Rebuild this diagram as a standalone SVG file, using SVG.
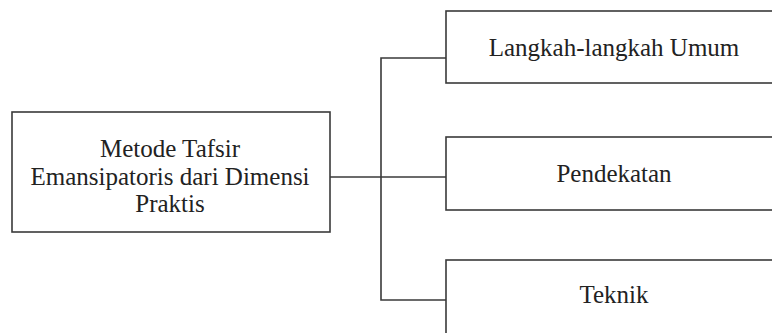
<svg xmlns="http://www.w3.org/2000/svg" width="772" height="333" viewBox="0 0 772 333">
<style>
.box{fill:#fff;stroke:#3a3a3a;stroke-width:1.6}
.lbl{font-family:'Liberation Serif',Tinos,'Times New Roman','DejaVu Serif',serif;font-size:25px;fill:#222;text-anchor:middle}
.conn{fill:none;stroke:#3a3a3a;stroke-width:1.6}
</style>
<rect width="772" height="333" fill="#fff"/>
<g id="connectors">
<path class="conn" d="M330,177 H446"/>
<path class="conn" d="M446,58 H381 V300 H446"/>
</g>
<g id="main">
<rect class="box" x="12" y="112" width="318" height="120"/>
<text class="lbl" font-family="Liberation Serif, serif" x="170" y="157">Metode Tafsir</text>
<text class="lbl" font-family="Liberation Serif, serif" x="170" y="185">Emansipatoris dari Dimensi</text>
<text class="lbl" font-family="Liberation Serif, serif" x="170" y="212">Praktis</text>
</g>
<g id="langkah">
<rect class="box" x="446" y="11" width="340" height="72"/>
<text class="lbl" font-family="Liberation Serif, serif" x="614" y="56">Langkah-langkah Umum</text>
</g>
<g id="pendekatan">
<rect class="box" x="446" y="137" width="340" height="73"/>
<text class="lbl" font-family="Liberation Serif, serif" x="614" y="182">Pendekatan</text>
</g>
<g id="teknik">
<rect class="box" x="446" y="260" width="340" height="90"/>
<text class="lbl" font-family="Liberation Serif, serif" x="614" y="303">Teknik</text>
</g>
</svg>
